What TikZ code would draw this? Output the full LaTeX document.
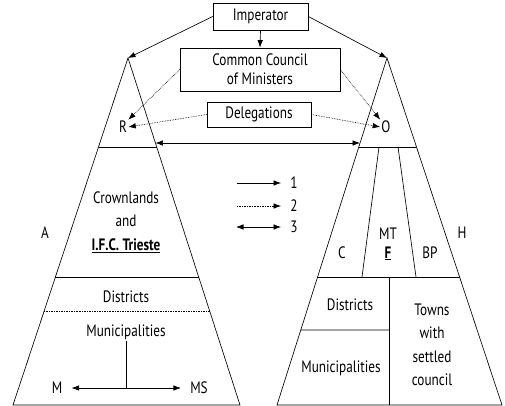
\documentclass[tikz,border=0pt]{standalone}
\usepackage{fontspec}
\setmainfont{PT Sans}[FakeStretch=0.8]
\usetikzlibrary{arrows.meta, calc}

\begin{document}
\begin{tikzpicture}[
    x=1pt, y=-1pt,
    line width=0.65pt,
    font=\fontsize{16.5}{23.5}\selectfont,
    box/.style={rectangle, draw, inner sep=0pt, align=center},
    lbl/.style={inner sep=1pt, align=center},
    arrow/.style={-{Latex[length=7.5pt,width=5.5pt]}},
    dblarrow/.style={{Latex[length=7.5pt,width=5.5pt]}-{Latex[length=7.5pt,width=5.5pt]}},
    dotarrow/.style={arrow, densely dotted}
]
\useasboundingbox (0,0) rectangle (505,406);

% Triangles
\coordinate (lapex) at (128,58);
\coordinate (lbl) at (13,405);
\coordinate (lbr) at (240,405);
\coordinate (rapex) at (387,58);
\coordinate (rbl) at (277,405);
\coordinate (rbr) at (502,405);
\draw (lapex) -- (lbl) -- (lbr) -- cycle;
\draw (rapex) -- (rbl) -- (rbr) -- cycle;

% Left levels
\draw ($(lapex)!0.256!(lbl)$) -- ($(lapex)!0.256!(lbr)$);
\draw ($(lapex)!0.631!(lbl)$) -- ($(lapex)!0.631!(lbr)$);
\draw[densely dotted] ($(lapex)!0.729!(lbl)$) -- ($(lapex)!0.729!(lbr)$);

% Right levels
\draw ($(rapex)!0.256!(rbl)$) -- ($(rapex)!0.256!(rbr)$);
\draw ($(rapex)!0.631!(rbl)$) -- ($(rapex)!0.631!(rbr)$);
\draw (379,147) -- (362,277);
\draw (398,147) -- (416,277);
\draw (389,277) -- (389,405);
\draw ($(rapex)!0.784!(rbl)$) -- (389,330);

% Top boxes
\node[box, minimum width=95pt, minimum height=27pt] (imp) at (260.5,16.5) {Imperator};
\node[box, minimum width=160pt, minimum height=43pt, font=\fontsize{16.5}{19}\selectfont] (council) at (260,69.5) {Common Council\\of Ministers};
\node[box, minimum width=104pt, minimum height=25pt] (deleg) at (259,114.5) {Delegations};

\node[lbl] (R) at (123,127) {R};
\node[lbl] (O) at (386,127) {O};

\draw[arrow] (imp.west) -- (lapex);
\draw[arrow] (imp.east) -- (rapex);
\draw[arrow] (imp.south) -- (council.north);
\draw[dotarrow] (council.west) -- (R.north east);
\draw[dotarrow] (council.east) -- (O.north west);
\draw[dotarrow] (deleg.west) -- (R.east);
\draw[dotarrow] (deleg.east) -- (O.west);

\coordinate (lmid) at ($(lapex)!0.245!(lbr)$);
\coordinate (rmid) at ($(rapex)!0.245!(rbl)$);
\draw[dblarrow] (lmid) -- (rmid);

% Legend
\node[lbl] (k1) at (294,183) {1};
\node[lbl] (k2) at (294,206) {2};
\node[lbl] (k3) at (294,227) {3};
\coordinate (s1) at (237,183);
\coordinate (s2) at (237,206);
\coordinate (s3) at (236,227);
\draw[arrow, shorten >=8pt] (s1) -- (k1.west);
\draw[dotarrow, shorten >=8pt] (s2) -- (k2.west);
\draw[dblarrow, shorten >=8pt] (s3) -- (k3.west);

% Left side labels
\node[lbl] (A) at (45,233) {A};
\node[lbl] (crown) at (126,222) {Crownlands\\and\\\underline{\textbf{I.F.C. Trieste}}};
\node[lbl] (ldist) at (126,297) {Districts};
\node[lbl] (lmun) at (126,332) {Municipalities};
\node[lbl] (M) at (57,388) {M};
\node[lbl] (MS) at (199,388) {MS};
\coordinate (mjoin) at (126,388);
\draw (lmun.south) -- (mjoin);
\draw[dblarrow, shorten <=8pt, shorten >=8pt] (M.east) -- (MS.west);

% Right side labels
\node[lbl] (H) at (462,233) {H};
\node[lbl] (C) at (342,253) {C};
\node[lbl] (MT) at (388,244) {MT\\[-5pt]\underline{\textbf{F}}};
\node[lbl] (BP) at (430,253) {BP};
\node[lbl] (rdist) at (350,305) {Districts};
\node[lbl] (rmun) at (341,368) {Municipalities};
\node[lbl] (towns) at (432,345) {Towns\\with\\settled\\council};
\end{tikzpicture}
\end{document}
